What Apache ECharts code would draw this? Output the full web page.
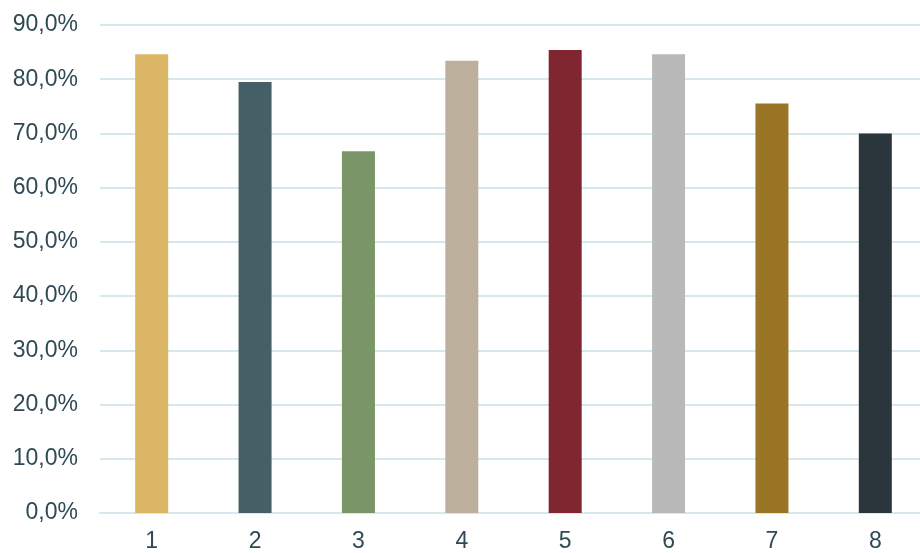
<!DOCTYPE html>
<html>
<head>
<meta charset="utf-8">
<script src="https://cdn.jsdelivr.net/npm/echarts@6/dist/echarts.min.js"></script>
<style>
  html, body { margin: 0; padding: 0; background: #ffffff; }
  #chart { width: 920px; height: 553px; }
</style>
</head>
<body>
<div id="chart"></div>
<script>
// Categories and share values (percent)
var categories = ['1', '2', '3', '4', '5', '6', '7', '8'];
var values = [84.6, 79.5, 66.7, 83.4, 85.4, 84.6, 75.5, 70.0];
var barColors = ['#DBB665', '#465E65', '#7A9669', '#BCAF9C', '#7F2631', '#B9B9B9', '#9A7526', '#2A363B'];
var yTicks = [0, 10, 20, 30, 40, 50, 60, 70, 80, 90];

function pct(v) {
  return v.toFixed(1).replace('.', ',') + '%';
}

var chart = echarts.init(document.getElementById('chart'), null, { renderer: 'canvas' });
chart.setOption({
  animation: false,
  backgroundColor: '#ffffff',
  // plot area runs a little past the right edge of the canvas
  grid: { left: 100, top: 25, width: 827, height: 488, containLabel: false, outerBoundsMode: 'none' },
  xAxis: {
    type: 'category',
    data: categories,
    axisLine: { show: true, lineStyle: { color: '#D5E8EE', width: 2 } },
    axisTick: { show: false },
    axisLabel: { color: '#2F4A55', fontSize: 23, fontFamily: 'Liberation Sans, Arial, sans-serif', margin: 17 }
  },
  yAxis: {
    type: 'value',
    min: yTicks[0],
    max: yTicks[yTicks.length - 1],
    interval: 10,
    axisLine: { show: false },
    axisTick: { show: false },
    splitLine: { lineStyle: { color: '#D5E8EE', width: 2 } },
    axisLabel: { color: '#2F4A55', fontSize: 23, fontFamily: 'Liberation Sans, Arial, sans-serif', margin: 22, formatter: pct }
  },
  series: [{
    type: 'bar',
    barWidth: 33,
    data: values.map(function (v, i) {
      return { value: v, itemStyle: { color: barColors[i] } };
    })
  }]
});
</script>
</body>
</html>
